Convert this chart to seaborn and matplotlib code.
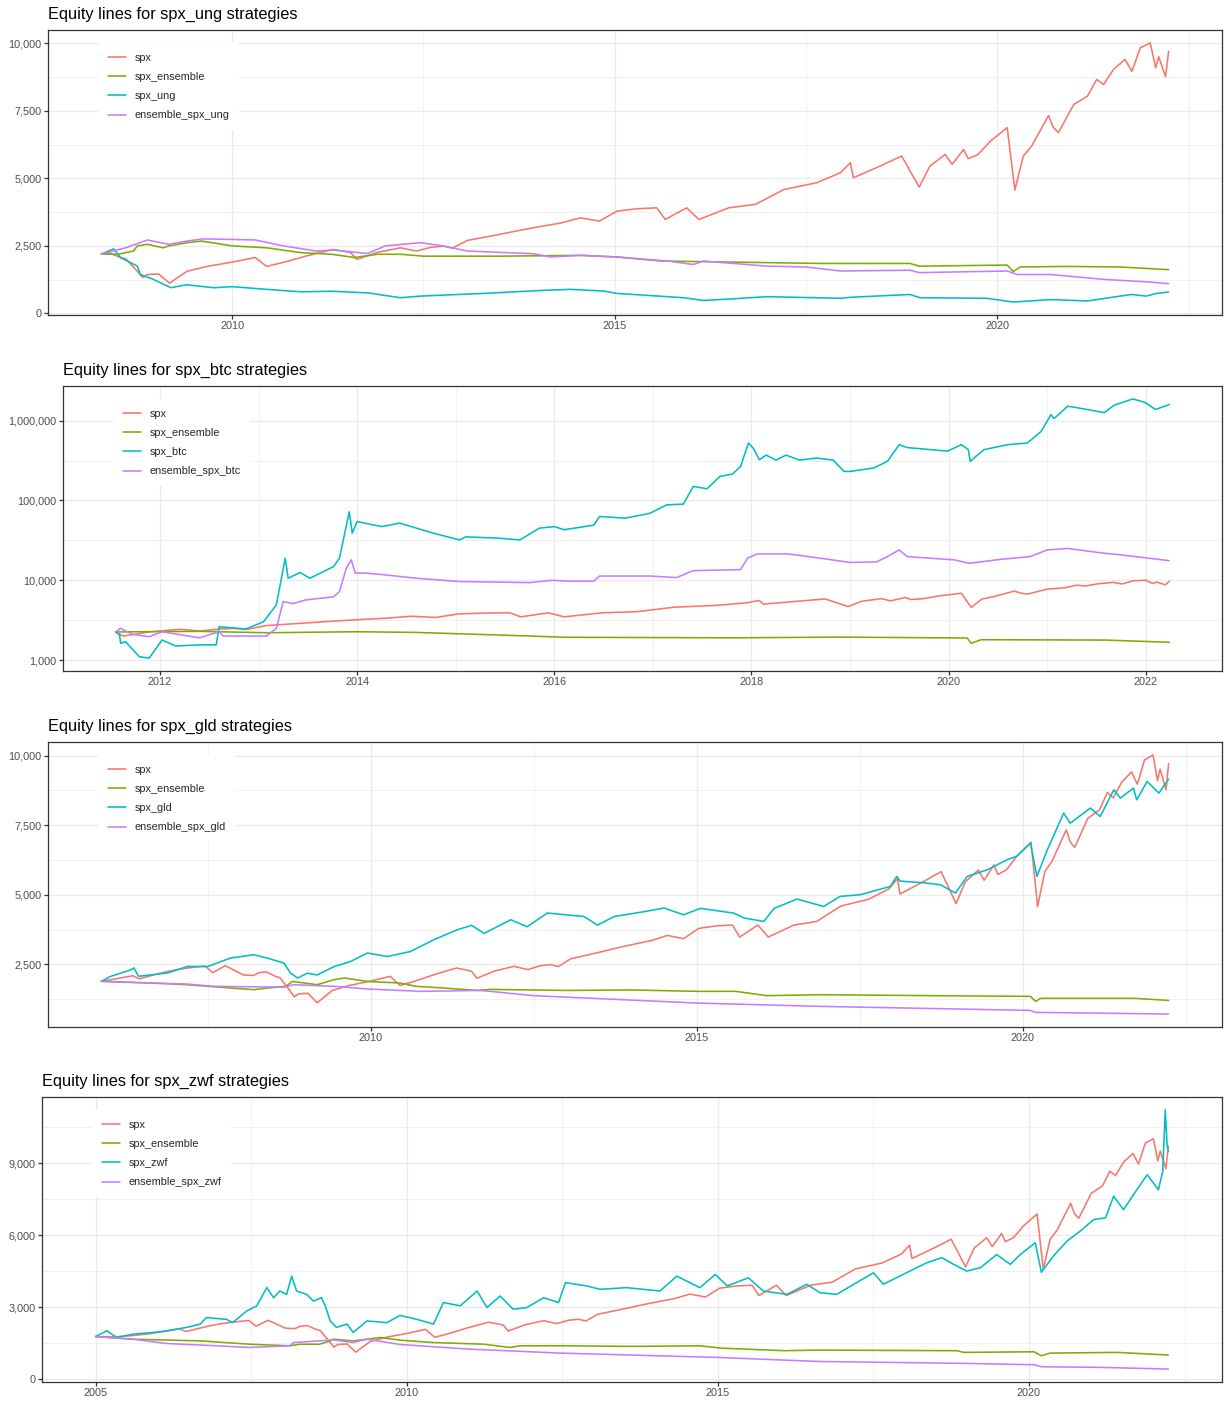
import numpy as np
import pandas as pd
import matplotlib
matplotlib.use("Agg")
import matplotlib.pyplot as plt
import seaborn as sns
from matplotlib.ticker import FixedLocator, FuncFormatter, NullFormatter

sns.set_theme(style="white")
plt.rcParams["font.family"] = ["Liberation Sans", "DejaVu Sans"]

# ---------------- data (decimal years) ----------------
spx_dates = [2005.00, 2005.30, 2005.60, 2005.87, 2006.14, 2006.35, 2006.45, 2006.80, 2007.00, 2007.20,
             2007.46, 2007.58, 2007.77, 2008.05, 2008.20, 2008.29, 2008.40, 2008.54, 2008.61, 2008.76,
             2008.83, 2008.89, 2009.04, 2009.18, 2009.41, 2009.67, 2010.00, 2010.30, 2010.45, 2010.67,
             2011.00, 2011.32, 2011.55, 2011.63, 2011.90, 2012.20, 2012.41, 2012.60, 2012.76, 2012.88,
             2013.07, 2013.50, 2013.80, 2014.07, 2014.30, 2014.55, 2014.80, 2015.03, 2015.30, 2015.55,
             2015.66, 2015.94, 2016.10, 2016.49, 2016.84, 2017.21, 2017.64, 2017.95, 2018.08, 2018.12,
             2018.47, 2018.75, 2018.98, 2019.12, 2019.32, 2019.41, 2019.56, 2019.62, 2019.75, 2019.91,
             2020.13, 2020.23, 2020.34, 2020.45, 2020.67, 2020.73, 2020.80, 2021.00, 2021.18, 2021.30,
             2021.39, 2021.52, 2021.67, 2021.76, 2021.87, 2022.00, 2022.07, 2022.11, 2022.20, 2022.24]
spx_values = [1770, 1760, 1810, 1890, 2000, 2090, 1980, 2200, 2300, 2370,
              2440, 2200, 2450, 2120, 2100, 2200, 2230, 2070, 2020, 1560,
              1330, 1440, 1460, 1120, 1560, 1740, 1900, 2070, 1740, 1890,
              2150, 2370, 2250, 2000, 2260, 2430, 2310, 2450, 2490, 2420,
              2700, 2930, 3100, 3240, 3350, 3540, 3420, 3790, 3880, 3910,
              3480, 3910, 3480, 3910, 4040, 4590, 4840, 5210, 5580, 5025,
              5460, 5830, 4680, 5460, 5890, 5520, 6070, 5730, 5890, 6380,
              6880, 4570, 5830, 6200, 7330, 6900, 6700, 7740, 8050, 8670,
              8480, 9040, 9410, 8970, 9840, 10020, 9100, 9510, 8770, 9710]

# --- panel 1: spx_ung ---
ung_start = 2008.29
ung_ens_dates = [2008.29, 2008.50, 2008.71, 2008.76, 2008.89, 2009.10, 2009.17, 2009.41, 2009.60, 2010.00,
                 2010.45, 2010.90, 2011.30, 2011.60, 2011.90, 2012.20, 2012.50, 2013.50, 2014.55, 2015.03,
                 2015.60, 2016.55, 2017.70, 2018.86, 2018.98, 2020.13, 2020.21, 2020.30, 2020.90, 2021.60,
                 2022.24]
ung_ens_values = [2200, 2190, 2310, 2500, 2560, 2430, 2500, 2620, 2680, 2500,
                  2430, 2250, 2190, 2070, 2190, 2190, 2120, 2120, 2150, 2090,
                  1940, 1900, 1850, 1850, 1750, 1790, 1550, 1720, 1740, 1720,
                  1620]
ung_dates = [2008.29, 2008.45, 2008.54, 2008.76, 2008.80, 2008.97, 2009.20, 2009.40, 2009.76, 2010.00,
             2010.45, 2010.90, 2011.30, 2011.77, 2012.20, 2012.46, 2013.28, 2014.12, 2014.42, 2014.85,
             2015.03, 2015.90, 2016.16, 2016.55, 2016.99, 2017.95, 2018.10, 2018.86, 2018.99, 2019.86,
             2020.21, 2020.70, 2021.18, 2021.75, 2021.95, 2022.08, 2022.24]
ung_values = [2200, 2390, 2070, 1750, 1440, 1260, 950, 1060, 950, 990,
              890, 800, 820, 760, 580, 640, 740, 860, 890, 830,
              740, 580, 480, 540, 620, 560, 600, 700, 580, 560,
              420, 510, 460, 700, 640, 740, 790]
ens_ung_dates = [2008.29, 2008.62, 2008.89, 2009.17, 2009.41, 2009.62, 2010.00, 2010.30, 2010.67, 2011.10,
                 2011.32, 2011.77, 2012.00, 2012.46, 2012.76, 2013.07, 2013.94, 2014.16, 2014.55, 2015.03,
                 2015.69, 2016.03, 2016.16, 2016.55, 2016.99, 2017.50, 2017.95, 2018.86, 2018.98, 2020.13,
                 2020.26, 2020.70, 2021.39, 2022.00, 2022.24]
ens_ung_values = [2200, 2440, 2720, 2560, 2680, 2760, 2740, 2720, 2500, 2310,
                  2350, 2220, 2500, 2620, 2500, 2310, 2210, 2090, 2150, 2090,
                  1940, 1810, 1940, 1850, 1750, 1720, 1570, 1600, 1510, 1570,
                  1440, 1440, 1260, 1160, 1100]

# --- panel 2: spx_btc ---
btc_start = 2011.55
btc_ens_dates = [2011.55, 2011.82, 2012.40, 2013.08, 2014.00, 2014.60, 2015.65, 2016.12, 2017.81, 2018.90,
                 2020.19, 2020.23, 2020.33, 2021.60, 2022.24]
btc_ens_values = [2250, 2265, 2290, 2200, 2265, 2220, 2020, 1930, 1900, 1940,
                  1890, 1620, 1800, 1780, 1670]
btc_dates = [2011.55, 2011.59, 2011.60, 2011.65, 2011.79, 2011.89, 2011.96, 2012.02, 2012.16, 2012.40,
             2012.57, 2012.60, 2012.74, 2012.87, 2013.05, 2013.18, 2013.27, 2013.30, 2013.42, 2013.52,
             2013.76, 2013.82, 2013.92, 2013.95, 2014.00, 2014.25, 2014.43, 2014.77, 2015.04, 2015.10,
             2015.45, 2015.65, 2015.85, 2016.00, 2016.10, 2016.40, 2016.46, 2016.72, 2016.97, 2017.14,
             2017.31, 2017.41, 2017.55, 2017.68, 2017.81, 2017.89, 2017.97, 2018.02, 2018.08, 2018.15,
             2018.25, 2018.35, 2018.49, 2018.66, 2018.83, 2018.94, 2019.00, 2019.24, 2019.38, 2019.50,
             2019.58, 2019.82, 2019.99, 2020.13, 2020.20, 2020.22, 2020.36, 2020.60, 2020.80, 2020.94,
             2021.04, 2021.07, 2021.21, 2021.42, 2021.58, 2021.68, 2021.87, 2021.99, 2022.10, 2022.24]
btc_values = [2250, 2060, 1620, 1700, 1100, 1060, 1400, 1780, 1500, 1550,
              1550, 2620, 2530, 2450, 3020, 4900, 18900, 10600, 12500, 10600,
              14800, 18900, 72000, 39000, 54400, 47000, 52000, 39000, 32000, 35000,
              33600, 32000, 45000, 47000, 43000, 49000, 63000, 60000, 69000, 88000,
              90000, 150000, 140000, 200000, 215000, 267000, 525000, 450000, 324000, 370000,
              320000, 370000, 320000, 340000, 320000, 231000, 231000, 255000, 309000, 500000,
              460000, 433000, 415000, 500000, 433000, 309000, 433000, 500000, 525000, 735000,
              1190000, 1060000, 1520000, 1370000, 1260000, 1560000, 1870000, 1700000, 1380000, 1590000]
ens_btc_dates = [2011.55, 2011.60, 2011.72, 2011.89, 2012.02, 2012.40, 2012.60, 2012.64, 2013.08, 2013.18,
                 2013.25, 2013.35, 2013.48, 2013.76, 2013.82, 2013.89, 2013.94, 2013.98, 2014.08, 2014.25,
                 2014.60, 2015.04, 2015.75, 2015.98, 2016.13, 2016.40, 2016.46, 2016.97, 2017.24, 2017.41,
                 2017.89, 2017.96, 2018.06, 2018.37, 2018.70, 2019.00, 2019.27, 2019.38, 2019.50, 2019.58,
                 2020.06, 2020.21, 2020.53, 2020.83, 2021.00, 2021.21, 2021.58, 2021.75, 2022.24]
ens_btc_values = [2250, 2500, 2100, 1960, 2265, 1900, 2265, 2000, 2000, 2500,
                  5400, 5100, 5670, 6200, 7200, 14100, 18000, 12300, 12300, 11800,
                  10600, 9630, 9350, 10000, 9750, 9750, 11300, 11300, 10800, 13200,
                  13600, 18900, 21400, 21400, 18900, 16700, 17000, 19800, 24000, 19800,
                  18000, 16300, 18300, 19800, 24000, 25000, 21800, 20800, 17600]

# --- panel 3: spx_gld ---
gld_start = 2005.87
gld_ens_dates = [2005.87, 2006.88, 2007.19, 2007.85, 2008.21, 2008.42, 2008.70, 2008.80, 2009.18, 2009.44,
                 2009.60, 2009.95, 2010.45, 2010.70, 2011.12, 2011.64, 2011.83, 2013.00, 2014.00, 2015.01,
                 2015.60, 2016.08, 2016.90, 2018.84, 2020.12, 2020.20, 2020.28, 2021.70, 2022.24]
gld_ens_values = [1890, 1804, 1768, 1650, 1590, 1650, 1710, 1886, 1768, 1950,
                  2010, 1886, 1830, 1710, 1650, 1563, 1600, 1563, 1580, 1530,
                  1530, 1375, 1410, 1370, 1350, 1170, 1280, 1280, 1205]
gld_dates = [2005.87, 2006.01, 2006.32, 2006.37, 2006.44, 2006.88, 2007.19, 2007.50, 2007.85, 2008.21,
             2008.42, 2008.67, 2008.77, 2008.88, 2009.03, 2009.18, 2009.44, 2009.69, 2009.95, 2010.26,
             2010.61, 2010.97, 2011.33, 2011.55, 2011.74, 2012.15, 2012.40, 2012.71, 2013.27, 2013.48,
             2013.74, 2014.19, 2014.50, 2014.80, 2015.06, 2015.57, 2015.73, 2016.03, 2016.19, 2016.54,
             2016.95, 2017.20, 2017.51, 2017.97, 2018.07, 2018.12, 2018.48, 2018.74, 2018.97, 2019.15,
             2019.46, 2019.76, 2019.91, 2020.12, 2020.22, 2020.38, 2020.63, 2020.73, 2021.04, 2021.19,
             2021.40, 2021.50, 2021.70, 2021.75, 2021.91, 2022.09, 2022.24]
gld_values = [1890, 2066, 2300, 2370, 2070, 2188, 2425, 2420, 2727, 2845,
              2720, 2547, 2188, 2009, 2180, 2120, 2420, 2600, 2906, 2780,
              2960, 3384, 3743, 3900, 3610, 4102, 3850, 4342, 4220, 3910,
              4220, 4390, 4522, 4280, 4510, 4340, 4163, 4041, 4510, 4845,
              4579, 4940, 5000, 5297, 5656, 5490, 5430, 5358, 5060, 5656,
              5897, 6256, 6380, 6855, 5660, 6620, 7932, 7570, 8112, 7810,
              8769, 8470, 8830, 8410, 9067, 8650, 9153]
ens_gld_dates = [2005.87, 2007.19, 2007.60, 2008.67, 2008.82, 2009.44, 2009.95, 2010.77, 2011.69, 2012.50,
                 2015.00, 2016.90, 2020.12, 2020.20, 2022.24]
ens_gld_values = [1890, 1790, 1710, 1680, 1768, 1710, 1615, 1530, 1563, 1375,
                  1110, 990, 846, 775, 715]

# --- panel 4: spx_zwf ---
zwf_start = 2005.00
zwf_ens_dates = [2005.00, 2005.60, 2006.68, 2007.48, 2008.12, 2008.28, 2008.60, 2008.77, 2008.82, 2009.14,
                 2009.36, 2009.57, 2009.89, 2010.43, 2011.24, 2011.66, 2011.82, 2012.57, 2013.64, 2014.71,
                 2015.04, 2016.06, 2016.64, 2018.84, 2018.95, 2020.08, 2020.20, 2020.34, 2021.41, 2022.24]
zwf_ens_values = [1770, 1660, 1590, 1450, 1385, 1450, 1450, 1590, 1660, 1590,
                  1660, 1730, 1620, 1520, 1450, 1315, 1385, 1385, 1360, 1385,
                  1290, 1180, 1205, 1180, 1110, 1135, 970, 1080, 1110, 1000]
zwf_dates = [2005.00, 2005.18, 2005.34, 2005.60, 2005.93, 2006.14, 2006.46, 2006.68, 2006.78, 2007.10,
             2007.20, 2007.43, 2007.59, 2007.75, 2007.86, 2007.96, 2008.07, 2008.15, 2008.23, 2008.39,
             2008.50, 2008.63, 2008.69, 2008.77, 2008.87, 2009.04, 2009.14, 2009.36, 2009.68, 2009.89,
             2010.16, 2010.43, 2010.59, 2010.86, 2011.13, 2011.29, 2011.50, 2011.71, 2011.93, 2012.20,
             2012.44, 2012.55, 2012.89, 2013.11, 2013.53, 2014.07, 2014.34, 2014.71, 2014.96, 2015.15,
             2015.49, 2015.73, 2016.11, 2016.43, 2016.64, 2016.91, 2017.50, 2017.66, 2018.14, 2018.36,
             2018.60, 2018.79, 2019.00, 2019.22, 2019.48, 2019.70, 2019.86, 2020.10, 2020.20, 2020.39,
             2020.61, 2020.82, 2021.04, 2021.23, 2021.36, 2021.52, 2021.68, 2021.90, 2022.08, 2022.15,
             2022.19, 2022.22, 2022.24]
zwf_values = [1770, 2010, 1730, 1870, 1940, 2010, 2150, 2290, 2560, 2490,
              2350, 2840, 3050, 3810, 3390, 3670, 3530, 4290, 3670, 3530,
              3250, 3390, 3050, 2420, 2150, 2290, 1940, 2420, 2350, 2650,
              2490, 2290, 3190, 3050, 3670, 2980, 3460, 2910, 2980, 3390,
              3190, 4020, 3880, 3740, 3810, 3670, 4290, 3810, 4360, 3880,
              4220, 3670, 3530, 3950, 3600, 3530, 4430, 3950, 4570, 4850,
              5060, 4780, 4500, 4640, 5190, 4780, 5190, 5680, 4450, 5120,
              5750, 6160, 6650, 6720, 7620, 7060, 7690, 8520, 7890, 8660,
              11220, 9760, 9490]
ens_zwf_dates = [2005.00, 2005.60, 2006.14, 2006.95, 2007.48, 2008.12, 2008.18, 2008.60, 2008.82, 2009.14,
                 2009.36, 2009.89, 2010.97, 2012.47, 2014.99, 2016.64, 2019.00, 2020.08, 2020.20, 2021.14,
                 2022.24]
ens_zwf_values = [1770, 1660, 1480, 1385, 1315, 1385, 1520, 1590, 1630, 1520,
                  1660, 1440, 1250, 1080, 900, 730, 650, 595, 510, 485,
                  415]

COLORS = ["#F8766D", "#7CAE00", "#00BFC4", "#C77CFF"]

FIG_W, FIG_H = 1224, 1401
fig = plt.figure(figsize=(FIG_W / 100, FIG_H / 100), dpi=100)


def add_axes_px(left, top, right, bottom):
    return fig.add_axes([left / FIG_W, 1 - bottom / FIG_H, (right - left) / FIG_W, (bottom - top) / FIG_H])


def comma(v, pos):
    return f"{v:,.0f}"


def draw_panel(rect, name, start, series, xmajor, xminor, log=False, ymajor=None, yminor=None):
    ax = add_axes_px(*rect)
    w_px = rect[2] - rect[0]
    h_px = rect[3] - rect[1]
    labels = ["spx", "spx_ensemble", f"spx_{name}", f"ensemble_spx_{name}"]
    frames = []
    sd = np.array(spx_dates)
    sv = np.array(spx_values)
    m = sd >= start - 1e-9
    frames.append(pd.DataFrame({"year": sd[m], "value": sv[m], "series": labels[0]}))
    for lab, (d, v) in zip(labels[1:], series):
        frames.append(pd.DataFrame({"year": d, "value": v, "series": lab}))
    df = pd.concat(frames, ignore_index=True)

    sns.lineplot(data=df, x="year", y="value", hue="series", hue_order=labels,
                 palette=COLORS, estimator=None, sort=True, linewidth=1.15, ax=ax)

    # ggplot-like 5% expansion
    x0, x1 = df["year"].min(), df["year"].max()
    dx = (x1 - x0) * 0.05
    ax.set_xlim(x0 - dx, x1 + dx)
    if log:
        ax.set_yscale("log")
        l0, l1 = np.log10(df["value"].min()), np.log10(df["value"].max())
        dl = (l1 - l0) * 0.05
        ax.set_ylim(10 ** (l0 - dl), 10 ** (l1 + dl))
    else:
        y0, y1 = df["value"].min(), df["value"].max()
        dy = (y1 - y0) * 0.05
        ax.set_ylim(y0 - dy, y1 + dy)

    ax.xaxis.set_major_locator(FixedLocator(xmajor))
    ax.xaxis.set_minor_locator(FixedLocator(xminor))
    ax.xaxis.set_major_formatter(FuncFormatter(lambda v, p: f"{v:.0f}"))
    ax.yaxis.set_major_locator(FixedLocator(ymajor))
    ax.yaxis.set_minor_locator(FixedLocator(yminor))
    ax.yaxis.set_major_formatter(FuncFormatter(comma))
    ax.yaxis.set_minor_formatter(NullFormatter())
    ax.xaxis.set_minor_formatter(NullFormatter())

    ax.set_axisbelow(True)
    ax.grid(which="major", color="#EBEBEB", linewidth=0.95)
    ax.grid(which="minor", color="#EBEBEB", linewidth=0.5)
    for s in ax.spines.values():
        s.set_color("#333333")
        s.set_linewidth(0.9)
    ax.tick_params(which="major", bottom=True, left=True, direction="out",
                   length=2.6, width=0.9, color="#333333",
                   labelsize=7.8, labelcolor="#4D4D4D", pad=2)
    ax.tick_params(which="minor", length=0)
    ax.set_xlabel("")
    ax.set_ylabel("")

    handles, labs = ax.get_legend_handles_labels()
    leg = ax.legend(handles, labs, loc="upper left",
                    bbox_to_anchor=(50 / w_px, 1 - 13 / h_px),
                    borderaxespad=0, frameon=True, fancybox=False, framealpha=1,
                    facecolor="white", edgecolor="none", fontsize=7.8,
                    handlelength=1.7, handletextpad=0.75, labelspacing=0.85,
                    borderpad=0.9)
    for line in leg.get_lines():
        line.set_linewidth(1.15)

    ax.text(0, 1 + 16 / h_px, f"Equity lines for spx_{name} strategies",
            transform=ax.transAxes, ha="left", va="center", fontsize=11.8, color="black")
    return ax


draw_panel((48, 30, 1222, 315), "ung", ung_start,
           [(ung_ens_dates, ung_ens_values), (ung_dates, ung_values), (ens_ung_dates, ens_ung_values)],
           xmajor=[2010, 2015, 2020], xminor=[2007.5, 2012.5, 2017.5, 2022.5],
           ymajor=[0, 2500, 5000, 7500, 10000], yminor=[1250, 3750, 6250, 8750])

draw_panel((63, 386, 1222, 671), "btc", btc_start,
           [(btc_ens_dates, btc_ens_values), (btc_dates, btc_values), (ens_btc_dates, ens_btc_values)],
           xmajor=[2012, 2014, 2016, 2018, 2020, 2022], xminor=[2011, 2013, 2015, 2017, 2019, 2021],
           log=True, ymajor=[1e3, 1e4, 1e5, 1e6], yminor=[10 ** 3.5, 10 ** 4.5, 10 ** 5.5])

draw_panel((48, 742, 1222, 1027), "gld", gld_start,
           [(gld_ens_dates, gld_ens_values), (gld_dates, gld_values), (ens_gld_dates, ens_gld_values)],
           xmajor=[2010, 2015, 2020], xminor=[2007.5, 2012.5, 2017.5, 2022.5],
           ymajor=[2500, 5000, 7500, 10000], yminor=[1250, 3750, 6250, 8750])

draw_panel((42, 1097, 1222, 1382), "zwf", zwf_start,
           [(zwf_ens_dates, zwf_ens_values), (zwf_dates, zwf_values), (ens_zwf_dates, ens_zwf_values)],
           xmajor=[2005, 2010, 2015, 2020], xminor=[2007.5, 2012.5, 2017.5, 2022.5],
           ymajor=[0, 3000, 6000, 9000], yminor=[1500, 4500, 7500, 10500])

fig.savefig("out.png", dpi=100, facecolor="white")
